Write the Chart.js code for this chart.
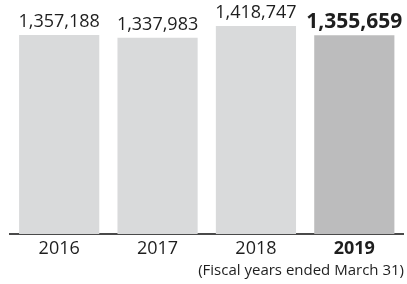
<!DOCTYPE html>
<html>
<head>
<meta charset="utf-8">
<script src="https://cdn.jsdelivr.net/npm/chart.js@4"></script>
<style>
  html, body { margin: 0; padding: 0; background: #fff; }
  #wrap { width: 407px; height: 284px; }
</style>
</head>
<body>
<div id="wrap"><canvas id="grafica" width="407" height="284"></canvas></div>
<script>
// datos
const years = ["2016", "2017", "2018", "2019"];
const values = [1357188, 1337983, 1418747, 1355659];
const valueLabels = ["1,357,188", "1,337,983", "1,418,747", "1,355,659"];
const footnote = "(Fiscal years ended March 31)";

const FONT = "'Open Sans', sans-serif";

// etiquetas sobre las barras + nota al pie
const labelsPlugin = {
  id: "labelsPlugin",
  afterDatasetsDraw(chart) {
    const ctx = chart.ctx;
    const meta = chart.getDatasetMeta(0);
    ctx.save();
    ctx.textAlign = "center";
    ctx.textBaseline = "alphabetic";
    ctx.fillStyle = "#1e1e1e";
    meta.data.forEach((bar, i) => {
      const last = i === values.length - 1;
      ctx.font = (last ? "bold 21px " : "18px ") + FONT;
      ctx.fillText(valueLabels[i], bar.x, bar.y - 7.5);
    });
    ctx.font = "15px " + FONT;
    ctx.textAlign = "right";
    ctx.fillText(footnote, 404, 275);
    ctx.restore();
  }
};

new Chart(document.getElementById("grafica"), {
  type: "bar",
  data: {
    labels: years,
    datasets: [{
      data: values,
      backgroundColor: ["#d9dadb", "#d9dadb", "#d9dadb", "#bcbcbd"],
      barPercentage: 0.815,
      categoryPercentage: 1
    }]
  },
  options: {
    responsive: false,
    animation: false,
    layout: { padding: { left: 10, right: 3.5, top: 0, bottom: 0 } },
    plugins: { legend: { display: false }, tooltip: { enabled: false } },
    scales: {
      y: { display: false, min: 0, max: 1595880 },
      x: {
        grid: { display: false, drawTicks: false },
        border: { color: "#4a4a4a", width: 2 },
        ticks: {
          color: "#1e1e1e",
          padding: 4,
          font: (c) => ({ family: FONT, size: 18, weight: c.index === 3 ? "bold" : "normal" })
        },
        afterFit(scale) { scale.height = 50; }
      }
    }
  },
  plugins: [labelsPlugin]
});
</script>
</body>
</html>
